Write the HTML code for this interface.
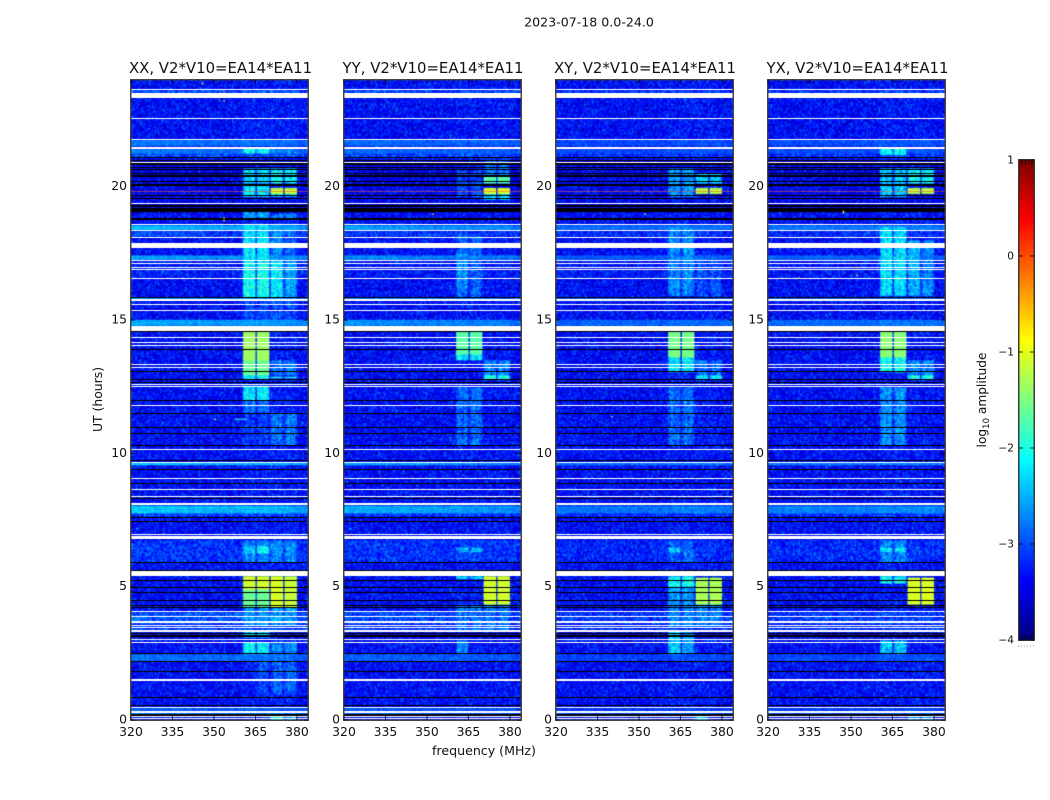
<!DOCTYPE html>
<html>
<head>
<meta charset="utf-8">
<title>2023-07-18 spectrogram</title>
<style>
html,body{margin:0;padding:0;background:#fff;}
#stage{position:relative;width:1050px;height:800px;overflow:hidden;background:#fff;}
canvas{position:absolute;display:block;}
svg{position:absolute;left:0;top:0;}
text{font-family:"DejaVu Sans","Liberation Sans",sans-serif;fill:#111;}
</style>
</head>
<body>
<div id="stage">
<canvas id="hm0" width="177" height="640" style="left:131px;top:80px"></canvas>
<canvas id="hm1" width="177" height="640" style="left:344px;top:80px"></canvas>
<canvas id="hm2" width="177" height="640" style="left:556px;top:80px"></canvas>
<canvas id="hm3" width="177" height="640" style="left:768px;top:80px"></canvas>
<canvas id="cb" width="15" height="480" style="left:1019px;top:160px"></canvas>
<svg id="ov" width="1050" height="800" viewBox="0 0 1050 800">
<text x="589" y="26.500" font-size="12.6" text-anchor="middle">2023-07-18 0.0-24.0</text>
<text x="220.500" y="73" font-size="14.9" text-anchor="middle">XX, V2*V10=EA14*EA11</text>
<text x="433" y="73" font-size="14.9" text-anchor="middle">YY, V2*V10=EA14*EA11</text>
<text x="645" y="73" font-size="14.9" text-anchor="middle">XY, V2*V10=EA14*EA11</text>
<text x="857.500" y="73" font-size="14.9" text-anchor="middle">YX, V2*V10=EA14*EA11</text>
<text x="484" y="755" font-size="12.6" text-anchor="middle">frequency (MHz)</text>
<text transform="translate(102,399.500) rotate(-90)" font-size="12.4" text-anchor="middle">UT (hours)</text>
<text transform="translate(986,400) rotate(-90)" font-size="12.2" text-anchor="middle">log<tspan font-size="8.5" dy="3">10</tspan><tspan dy="-3"> amplitude</tspan></text>
</svg>
</div>
<script>
// ---- axis data ----
const xTickValues = [320,335,350,365,380];
const yTickValues = [0,5,10,15,20];
const cbTickValues = [1,0,-1,-2,-3,-4];
const cbTickLabels = ['1','0','\u22121','\u22122','\u22123','\u22124'];
const panelNames = ['xx','yy','xy','yx'];
const panelLefts = [131,344,556,768];

// ---- spectrogram data (hours, MHz, log10 amplitude) ----
const baseLevel = -3.36;
const channelCount = 128;
const rowCount = 427;
const windowEdges = [[360.5,364.9],[365.6,369.8],[370.5,375],[375.6,379.8]];
const bandGain = [1,0.85,0.55,0.6];
const windowGlow = [0.07,0.04,0.05,0.06];
const channelRipple = [-0.18,-0.05,0.06,0.03,-0.11,0.05,0.03,-0.15];

const flaggedRows = [[23.64,23.68],[23.32,23.52],[22.53,22.57],[21.76,21.80],[21.42,21.49],[20.90,20.94],[19.35,19.39],[18.56,18.60],[18.33,18.375],[18.08,18.11],[17.70,17.89],[17.20,17.25],[17.08,17.12],[16.97,17.0],[16.875,16.91],[16.54,16.575],[15.71,15.78],[15.56,15.6],[15.35,15.375],[14.59,14.79],[14.34,14.36],[14.13,14.16],[14.04,14.06],[13.31,13.35],[13.21,13.24],[12.56,12.6],[12.5,12.525],[11.79,11.81],[10.125,10.16],[9.66,9.69],[9.04,9.06],[8.625,8.66],[8.38,8.4],[8.06,8.12],[6.96,6.99],[6.79,6.91],[5.4,5.58],[4.05,4.09],[3.86,3.9],[3.64,3.72],[3.54,3.57],[3.46,3.5],[3.31,3.375],[3.0,3.05],[2.9,2.925],[1.46,1.53],[0.45,0.49],[0.27,0.34],[0.11,0.15],[0.05,0.075]];

const zeroRows = [[21.06,21.10],[20.96,21.0],[20.81,20.88],[20.73,20.75],[20.625,20.65],[20.49,20.52],[20.36,20.43],[20.2,20.22],[20.03,20.09],[19.66,19.7],[19.53,19.56],[19.25,19.32],[19.05,19.19],[18.75,18.825],[15.85,15.87],[14.55,14.59],[13.89,13.91],[13.06,13.09],[12.74,12.78],[12.63,12.66],[11.96,12],[11.46,11.5],[10.95,10.98],[10.75,10.77],[10.26,10.31],[9.7,9.74],[9.36,9.41],[8.86,8.89],[8.3,8.34],[7.6,7.62],[7.44,7.46],[5.89,5.91],[5.58,5.61],[5.22,5.25],[4.94,4.98],[4.75,4.79],[4.47,4.5],[4.275,4.31],[4.19,4.23],[3.22,3.27],[3.1,3.17],[2.475,2.5],[2.175,2.21],[1.8,1.84],[0.85,0.87],[0.525,0.55],[0.16,0.225]];

const brightRows = [[23.5,23.64,0.35],[21.55,21.75,0.6],[21.1,21.26,0.35],[21.26,21.4,0.6],[19,21,-0.12],[18.4,18.55,0.95],[18.11,18.33,0.3],[17.25,17.4,0.8],[16.6,17.2,0.1],[15.78,15.85,0.9],[14.79,15.0,0.85],[9.55,9.65,0.95],[7.75,8.05,1.0],[7.62,7.75,0.35],[5.9,6.75,0.25],[3.6,4.05,0.42],[3.3,3.55,0.3],[2.22,2.47,0.55],[0.34,0.45,0.5],[0.15,0.27,0.6]];

const spikeRowHour = 19.84;

const blocksXX = [[0,1,21.26,21.45,-1.85],[2,3,21.26,21.45,-2.6],[0,1,20.1,20.7,-2.1],[2,3,20.1,20.7,-1.9],[0,1,19.6,20.05,-2.0],[2,3,19.75,19.98,-1.15],[2,3,19.6,19.75,-2.2],[0,1,18.75,19.05,-2.4],[2,3,18.75,19,-2.6],[0,1,17.2,18.6,-2.0],[2,2,17.2,18.6,-2.5],[3,3,17.2,18.6,-2.7],[0,1,15.85,17.2,-1.85],[2,2,15.85,17.2,-2.0],[3,3,15.85,17.2,-2.4],[0,3,14.8,15.85,-2.8],[0,1,13.5,14.55,-1.35],[0,1,12.9,13.5,-1.6],[0,1,12.75,12.9,-1.9],[2,3,12.8,12.88,-1.8],[2,3,12.9,13.5,-2.6],[0,1,12,12.55,-2.0],[0,1,11.55,12,-2.6],[2,3,10.3,11.55,-2.6],[0,1,10.3,11.55,-2.9],[0,3,5.9,6.75,-2.5],[1,1,6.25,6.5,-1.9],[0,0,6.25,6.5,-2.2],[0,1,4.87,5.4,-1.1],[0,1,4.2,4.87,-1.6],[2,2,4.2,5.4,-1.05],[3,3,4.2,5.4,-1.15],[0,3,3.55,4.2,-2.4],[0,1,3.1,3.3,-2.1],[0,1,2.47,2.9,-1.95],[2,3,2.47,2.9,-2.5],[1,1,0.95,2.45,-2.8],[2,3,0.95,2.45,-2.7],[2,2,0,0.2,-1.9],[3,3,0,0.2,-2.4]];
const blocksYY = [[2,3,19.75,19.95,-1.05],[2,3,20.1,20.4,-1.7],[2,3,19.5,19.75,-2.1],[0,1,19.6,20.6,-2.8],[2,3,20.4,21,-2.6],[0,1,15.8,18.2,-2.7],[0,0,16.2,17.5,-2.45],[0,1,13.7,14.55,-1.7],[0,1,13.5,13.7,-2.0],[2,3,12.95,13.5,-2.5],[2,3,12.78,12.9,-1.8],[0,1,10.3,12.5,-2.65],[0,1,5.9,6.75,-2.9],[0,1,6.3,6.45,-2.3],[0,1,5.3,5.4,-2.1],[2,3,4.3,5.37,-1.1],[0,3,3.3,4.3,-2.6],[0,0,2.45,3.0,-2.5]];
const blocksXY = [[2,3,19.75,19.95,-1.2],[2,3,20.1,20.5,-2.1],[0,1,19.6,20.7,-2.4],[0,1,15.9,18.5,-2.5],[2,3,15.9,17.5,-2.8],[0,1,13.6,14.55,-1.55],[0,1,13.05,13.6,-2.0],[2,3,12.78,12.9,-2.0],[2,3,12.95,13.5,-2.6],[0,1,10.3,12.5,-2.65],[0,1,5.9,6.75,-2.7],[0,0,6.3,6.45,-2.2],[0,1,5.0,5.4,-1.85],[0,1,4.3,5.0,-2.4],[2,3,4.3,5.35,-1.3],[0,3,3.5,4.3,-2.5],[0,0,2.45,3.3,-2.1],[1,1,2.45,3.3,-2.4],[2,2,0,0.2,-2.2]];
const blocksYX = [[2,3,19.75,19.95,-1.2],[2,3,20.1,20.7,-1.9],[0,1,19.6,20.7,-2.2],[0,1,15.9,18.5,-2.05],[2,2,15.9,18,-2.3],[3,3,15.9,18,-2.5],[0,1,21.2,21.45,-1.9],[0,1,13.6,14.55,-1.45],[0,1,13.05,13.6,-1.85],[2,3,12.78,12.9,-1.8],[2,3,12.95,13.5,-2.5],[0,1,10.3,12.5,-2.45],[0,1,5.9,6.75,-2.5],[0,1,6.3,6.45,-2.0],[0,1,5.1,5.4,-1.9],[2,3,4.3,5.35,-1.05],[0,1,2.45,3.0,-2.2],[2,3,0,0.2,-2.4]];
const panelBlocks = [blocksXX,blocksYY,blocksXY,blocksYX];

// fine amplitude texture (log10 residuals)
const speckle = [0.12,-0.31,0.05,0.38,-0.14,-0.42,0.21,0.02,-0.08,0.47,-0.25,0.16,-0.36,0.09,0.29,-0.19,-0.04,0.33,-0.47,0.11,0.55,-0.12,-0.28,0.07,0.19,-0.39,0.24,-0.06,0.41,-0.17,0.03,-0.33,0.14,0.27,-0.22,-0.09,0.62,-0.44,0.08,-0.15,0.31,0.01,-0.26,0.18,-0.37,0.23,0.44,-0.11,-0.02,0.13,-0.51,0.36,-0.2,0.06,0.26,-0.3,0.1,0.5,-0.16,-0.41,0.17,-0.07,0.34,-0.24,0.04,0.22,-0.35,0.15,-0.01,0.4,-0.13,-0.46,0.28,0.09,-0.21,0.58,-0.1,-0.32,0.2,0.0,-0.18,0.37,-0.27,0.12,-0.05,0.3,-0.4,0.25,-0.03,0.16,-0.23,0.43,-0.34,0.07,0.52,-0.12,-0.29,0.11,-0.48,0.32,0.03];

// isolated outliers: panel, MHz, hour, level
const outliers = [[0,353.4,23.6,-0.2],[0,353.4,23.25,-0.9],[0,353.4,18.85,-0.9],[0,353.4,18.75,-1.0],[0,345.5,23.9,-1.0],[0,350.1,11.3,-0.9],[0,340.5,14.8,-1.7],[0,322,7.2,-2.0],[3,331,16.6,-1.3],[3,352,17.0,-0.9],[3,352,16.7,-1.0],[3,347,19.05,-0.9],[3,347,19.1,-1.0],[1,322,7.2,-2.1],[2,345,0.5,-1.2],[2,340,11.4,-1.4],[1,352,19.0,-1.0],[2,352,19.0,-1.2]];
// narrow-band streak: panel, MHz low, MHz high, hour, level
const streaks = [[0,357.5,362,11.3,-1.9]];

// ---- scales ----
const plotTop = 80, plotBottom = 720, plotWidth = 177;
const fMin = 320, fMax = 384, tMax = 24;
function xScale(f){ return (f-fMin)/(fMax-fMin)*plotWidth; }
function yScale(h){ return (plotBottom-plotTop)*(1-h/tMax); }
function clamp01(v){ return Math.max(0,Math.min(1,v)); }
function jet(level){
  const t = clamp01((level+4)/5);
  return [
    Math.round(255*clamp01(Math.min(4*t-1.5,-4*t+4.5))),
    Math.round(255*clamp01(Math.min(4*t-0.5,-4*t+3.5))),
    Math.round(255*clamp01(Math.min(4*t+0.5,-4*t+2.5)))
  ];
}
function texture(c,r,p){
  const i = (c*c*7 + r*r*3 + c*r*11 + c*5 + r*13 + p*17) % speckle.length;
  return speckle[i];
}
function cellLevel(p,c,r){
  const f = fMin + (c+0.5)/channelCount*(fMax-fMin);
  const h = (rowCount-r-0.5)/rowCount*tMax;
  const s = texture(c,r,p);
  let lev = baseLevel;
  let texGain = 0.85;
  for(const b of brightRows){
    if(h>=b[0] && h<b[1]){
      lev += b[2]*bandGain[p]*(p===1||p===0?1-(f-320)/64*0.25:1);
      if(b[2]>=0.5) texGain = 0.4;
    }
  }
  lev += s*texGain;
  let win = -1;
  windowEdges.forEach((w,i)=>{ if(f>=w[0] && f<=w[1]) win=i; });
  if(f>=360 && f<=380) lev += windowGlow[p];
  if(win>=0){
    const w = windowEdges[win];
    const rip = channelRipple[Math.floor((f-w[0])/(w[1]-w[0])*channelRipple.length*0.999)];
    for(const k of panelBlocks[p]){
      if(win>=k[0] && win<=k[1] && h>=k[2] && h<k[3]){
        const cand = k[4] > -1.8 ? k[4] + s*0.2 : k[4] - 0.22 + s*0.8 + rip;
        lev = Math.max(lev, cand);
      }
    }
  }
  return lev;
}
function drawPanel(p){
  const off = document.createElement('canvas');
  off.width = channelCount; off.height = rowCount;
  const octx = off.getContext('2d');
  const img = octx.createImageData(channelCount,rowCount);
  for(let r=0;r<rowCount;r++){
    for(let c=0;c<channelCount;c++){
      const col = jet(cellLevel(p,c,r));
      const o = (r*channelCount+c)*4;
      img.data[o]=col[0]; img.data[o+1]=col[1]; img.data[o+2]=col[2]; img.data[o+3]=255;
    }
  }
  octx.putImageData(img,0,0);
  const ctx = document.getElementById('hm'+p).getContext('2d');
  ctx.imageSmoothingEnabled = true;
  ctx.drawImage(off,0,0,plotWidth,plotBottom-plotTop);
  const w = plotWidth;
  function band(b){
    const top = Math.round(yScale(b[1]));
    const hgt = Math.max(1,Math.round(yScale(b[0])-yScale(b[1])));
    ctx.fillRect(0,top,w,hgt);
  }
  ctx.fillStyle = '#000';
  zeroRows.forEach(band);
  ctx.fillStyle = '#fff';
  flaggedRows.forEach(band);
  ctx.fillStyle = 'rgba(235,90,60,0.75)';
  ctx.fillRect(0,yScale(spikeRowHour),w,0.8);
  streaks.filter(s=>s[0]===p).forEach(s=>{
    const col = jet(s[4]);
    ctx.fillStyle = 'rgb('+col.join(',')+')';
    ctx.fillRect(xScale(s[1]),yScale(s[3]),xScale(s[2])-xScale(s[1]),1);
  });
  outliers.filter(o=>o[0]===p).forEach(o=>{
    const col = jet(o[3]);
    ctx.fillStyle = 'rgb('+col.join(',')+')';
    ctx.fillRect(xScale(o[1]),yScale(o[2]),1.4,1.5);
  });
}
panelNames.forEach((n,p)=>drawPanel(p));

// ---- colorbar ----
const cbTop = 160, cbHeight = 480, cbLeft = 1019, cbWidth = 15;
(function(){
  const ctx = document.getElementById('cb').getContext('2d');
  for(let y=0;y<cbHeight;y++){
    const col = jet(1-(y+0.5)/cbHeight*5);
    ctx.fillStyle = 'rgb('+col.join(',')+')';
    ctx.fillRect(0,y,cbWidth,1);
  }
})();

// ---- svg axes ----
const ov = document.getElementById('ov');
const NS = 'http://www.w3.org/2000/svg';
function mk(tag,attrs,txt){
  const e = document.createElementNS(NS,tag);
  for(const k in attrs) e.setAttribute(k,attrs[k]);
  if(txt!==undefined) e.textContent = txt;
  ov.appendChild(e);
  return e;
}
panelNames.forEach((n,p)=>{
  const L = panelLefts[p];
  const frame = mk('rect',{x:L-0.25,y:plotTop-0.25,width:plotWidth+0.5,height:plotBottom-plotTop+0.5,fill:'none',stroke:'#3a3a3a','stroke-width':1.4});
  
  
  xTickValues.forEach(v=>{
    const x = L+xScale(v);
    const t1 = mk('line',{x1:x,x2:x,y1:plotBottom,y2:plotBottom-4,stroke:'#000','stroke-width':0.8});
    
    
    const t2 = mk('line',{x1:x,x2:x,y1:plotTop,y2:plotTop+4,stroke:'#000','stroke-width':0.8});
    
    
    const lb = mk('text',{x:x,y:736,'font-size':12.4,'text-anchor':'middle'},String(v));
    
    
  });
  yTickValues.forEach(v=>{
    const y = plotTop+yScale(v);
    const t1 = mk('line',{x1:L,x2:L+4,y1:y,y2:y,stroke:'#000','stroke-width':0.8});
    
    
    const t2 = mk('line',{x1:L+plotWidth,x2:L+plotWidth-4,y1:y,y2:y,stroke:'#000','stroke-width':0.8});
    
    
    const lb = mk('text',{x:L-4,y:y+3.5,'font-size':12.4,'text-anchor':'end'},String(v));
    
    
  });
});
const cbFrame = mk('rect',{x:cbLeft-0.25,y:cbTop-0.25,width:cbWidth+0.5,height:cbHeight+0.5,fill:'none',stroke:'#222','stroke-width':1.3});


cbTickValues.forEach((v,i)=>{
  const y = cbTop+(1-v)/5*cbHeight;
  const a = mk('line',{x1:cbLeft,x2:cbLeft+4,y1:y,y2:y,stroke:'#000','stroke-width':0.8});
  
  
  const b = mk('line',{x1:cbLeft+cbWidth,x2:cbLeft+cbWidth-4,y1:y,y2:y,stroke:'#000','stroke-width':0.8});
  
  
  const lb = mk('text',{x:cbLeft-5,y:y+3.5,'font-size':10.6,'text-anchor':'end'},cbTickLabels[i]);
  
  
});
[3,6.5,10,13].forEach(dx=>{
  const a = mk('line',{x1:cbLeft+dx,x2:cbLeft+dx,y1:cbTop,y2:cbTop+5,stroke:'#000','stroke-width':0.7});
  
  
  const b = mk('line',{x1:cbLeft+dx,x2:cbLeft+dx,y1:cbTop+cbHeight,y2:cbTop+cbHeight-5,stroke:'#000','stroke-width':0.7});
  
  
});
const dots = mk('line',{x1:1018,x2:1035,y1:646,y2:646,stroke:'#999','stroke-width':1,'stroke-dasharray':'1 2'});


</script>
</body>
</html>
